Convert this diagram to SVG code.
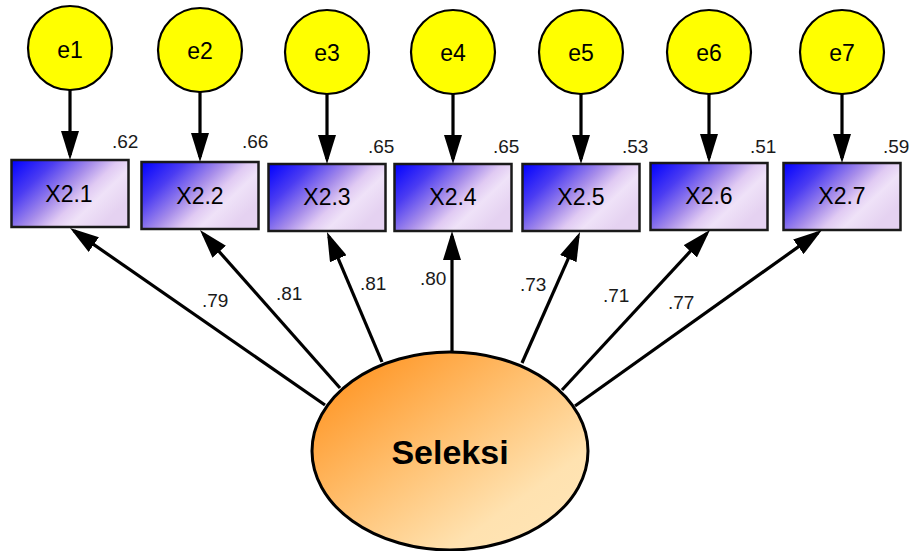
<svg xmlns="http://www.w3.org/2000/svg" width="913" height="551" viewBox="0 0 913 551">
  <defs>
    <linearGradient id="obsFill" x1="0" y1="0" x2="1" y2="0.6">
      <stop offset="0" stop-color="#0000ff"/>
      <stop offset="0.28" stop-color="#4b3cf2"/>
      <stop offset="0.52" stop-color="#a68cea"/>
      <stop offset="0.68" stop-color="#e0caf3"/>
      <stop offset="0.8" stop-color="#efe2f8"/>
      <stop offset="1" stop-color="#e5d2f1"/>
    </linearGradient>
    <linearGradient id="latFill" x1="0" y1="0" x2="1" y2="1">
      <stop offset="0" stop-color="#ff8a10"/>
      <stop offset="0.45" stop-color="#ffc070"/>
      <stop offset="0.75" stop-color="#ffe2b0"/>
      <stop offset="1" stop-color="#ffe6b8"/>
    </linearGradient>
    <marker id="head" markerUnits="userSpaceOnUse" markerWidth="29" markerHeight="18"
            viewBox="0 0 29 18" refX="24" refY="9" orient="auto">
      <path d="M0,0 L29,9 L0,18 Z" fill="#000"/>
    </marker>
    <style>
      .err circle { fill: #ffff00; stroke: #000; stroke-width: 2.2; }
      .obs rect { fill: url(#obsFill); stroke: #1a1a1a; stroke-width: 2.5; }
      .lat ellipse { fill: url(#latFill); stroke: #000; stroke-width: 3; }
      .name { font-family: "Liberation Sans", Arial, sans-serif; font-size: 23px; fill: #000; text-anchor: middle; }
      .big { font-family: "Liberation Sans", Arial, sans-serif; font-size: 34px; font-weight: bold; fill: #000; text-anchor: middle; }
      .num { font-family: "Liberation Sans", Arial, sans-serif; font-size: 19px; fill: #1a1a1a; }
      .conn line { stroke: #000; stroke-width: 3.2; fill: none; marker-end: url(#head); }
    </style>
  </defs>

  <!-- error terms -->
  <g id="e1" class="err"><circle cx="70" cy="48" r="42"/><text class="name" x="70" y="58">e1</text></g>
  <g id="e2" class="err"><circle cx="200" cy="50" r="42"/><text class="name" x="200" y="59">e2</text></g>
  <g id="e3" class="err"><circle cx="327" cy="52" r="42"/><text class="name" x="327" y="61">e3</text></g>
  <g id="e4" class="err"><circle cx="453" cy="52" r="42"/><text class="name" x="453" y="61">e4</text></g>
  <g id="e5" class="err"><circle cx="581" cy="52" r="42"/><text class="name" x="581" y="61">e5</text></g>
  <g id="e6" class="err"><circle cx="709" cy="52" r="42"/><text class="name" x="709" y="61">e6</text></g>
  <g id="e7" class="err"><circle cx="842" cy="52" r="42"/><text class="name" x="842" y="61">e7</text></g>

  <!-- observed indicators -->
  <g id="X2.1" class="obs"><rect x="11.5" y="160" width="117" height="67"/><text class="name" x="69" y="202">X2.1</text></g>
  <g id="X2.2" class="obs"><rect x="141.5" y="162" width="117" height="67"/><text class="name" x="200" y="204">X2.2</text></g>
  <g id="X2.3" class="obs"><rect x="268.5" y="164" width="117" height="67"/><text class="name" x="327" y="205">X2.3</text></g>
  <g id="X2.4" class="obs"><rect x="394.5" y="164" width="117" height="67"/><text class="name" x="453" y="205">X2.4</text></g>
  <g id="X2.5" class="obs"><rect x="522.5" y="164" width="117" height="67"/><text class="name" x="581" y="205">X2.5</text></g>
  <g id="X2.6" class="obs"><rect x="650.5" y="163" width="117" height="67"/><text class="name" x="709" y="204">X2.6</text></g>
  <g id="X2.7" class="obs"><rect x="783.5" y="163" width="117" height="67"/><text class="name" x="842" y="204">X2.7</text></g>

  <!-- paths -->
  <g id="connectors" class="conn">
    <line x1="70" y1="90" x2="70" y2="155"/>
    <line x1="200" y1="92" x2="200" y2="157"/>
    <line x1="327" y1="94" x2="327" y2="159"/>
    <line x1="453" y1="94" x2="453" y2="159"/>
    <line x1="581" y1="94" x2="581" y2="159"/>
    <line x1="709" y1="94" x2="709" y2="158"/>
    <line x1="842" y1="94" x2="842" y2="158"/>

    <line x1="325" y1="405" x2="74.1" y2="230.9"/>
    <line x1="340" y1="388" x2="203.3" y2="233.7"/>
    <line x1="382" y1="362" x2="328.9" y2="236.6"/>
    <line x1="452" y1="352" x2="452" y2="236"/>
    <line x1="522" y1="363" x2="578.0" y2="236.6"/>
    <line x1="562" y1="390" x2="706.6" y2="233.7"/>
    <line x1="575" y1="406" x2="817.9" y2="232.9"/>
  </g>

  <!-- latent factor -->
  <g id="Seleksi" class="lat">
    <ellipse cx="450" cy="451" rx="138" ry="99"/>
    <text class="big" x="450" y="464">Seleksi</text>
  </g>

  <!-- squared multiple correlations -->
  <g id="r2">
    <text class="num" x="112" y="148">.62</text>
    <text class="num" x="242" y="148">.66</text>
    <text class="num" x="368" y="153">.65</text>
    <text class="num" x="493" y="153">.65</text>
    <text class="num" x="622" y="153">.53</text>
    <text class="num" x="750" y="153">.51</text>
    <text class="num" x="883" y="153">.59</text>
  </g>

  <!-- standardized loadings -->
  <g id="loadings">
    <text class="num" x="202" y="307">.79</text>
    <text class="num" x="276" y="300">.81</text>
    <text class="num" x="360" y="290">.81</text>
    <text class="num" x="420" y="285">.80</text>
    <text class="num" x="520" y="291">.73</text>
    <text class="num" x="603" y="302">.71</text>
    <text class="num" x="668" y="309">.77</text>
  </g>
</svg>
